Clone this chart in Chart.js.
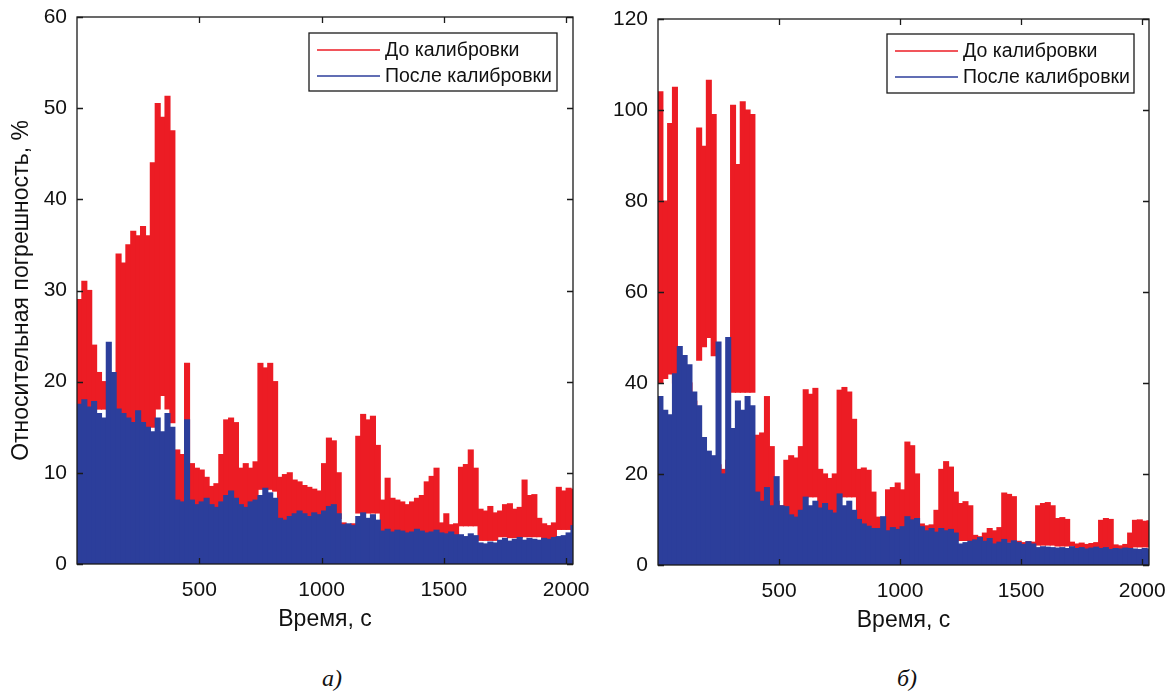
<!DOCTYPE html>
<html>
<head>
<meta charset="utf-8">
<script src="https://cdn.jsdelivr.net/npm/chart.js@4.4.1/dist/chart.umd.min.js"></script>
<style>
  body { margin: 0; background: #fff; width: 1173px; height: 700px; position: relative; overflow: hidden; }
  #wrapA { position: absolute; left: 0; top: 0; width: 600px; height: 650px; }
  #wrapB { position: absolute; left: 600px; top: 0; width: 573px; height: 650px; }
  .cap { position: absolute; top: 665px; font: italic 24px 'Liberation Serif', 'Times New Roman', serif; color: #111; }
</style>
</head>
<body>
<div id="wrapA"><canvas id="chartA" width="600" height="650"></canvas></div>
<div id="wrapB"><canvas id="chartB" width="573" height="650"></canvas></div>
<div class="cap" style="left:322px">а)</div>
<div class="cap" style="left:897px">б)</div>
<script>
// time bins, s (centre of each 20 s interval)
const timeBins = [
  10, 30, 50, 70, 90, 110, 130, 150, 170, 190,
  210, 230, 250, 270, 290, 310, 330, 350, 370, 390,
  410, 430, 450, 470, 490, 510, 530, 550, 570, 590,
  610, 630, 650, 670, 690, 710, 730, 750, 770, 790,
  810, 830, 850, 870, 890, 910, 930, 950, 970, 990,
  1010, 1030, 1050, 1070, 1090, 1110, 1130, 1150, 1170, 1190,
  1210, 1230, 1250, 1270, 1290, 1310, 1330, 1350, 1370, 1390,
  1410, 1430, 1450, 1470, 1490, 1510, 1530, 1550, 1570, 1590,
  1610, 1630, 1650, 1670, 1690, 1710, 1730, 1750, 1770, 1790,
  1810, 1830, 1850, 1870, 1890, 1910, 1930, 1950, 1970, 1990,
  2010, 2030
];
const xTicks = [500, 1000, 1500, 2000];

// panel a) - before calibration: upper / lower envelope, %
const redHiA = [
  29, 31, 30, 24, 21, 20, 18.5, 19, 34, 33,
  35, 36.5, 36, 37, 36, 44, 50.5, 49, 51.3, 47.5,
  12.5, 12, 22, 11, 10.5, 10.3, 9.5, 8.5, 8.8, 12,
  15.8, 16, 15.5, 10.5, 11, 10.5, 11.2, 22, 21.5, 22,
  20, 9.5, 9.8, 10, 9.2, 9, 8.6, 8.4, 8.2, 8,
  11, 13.8, 13.5, 10, 4.5, 4.3, 4.4, 14, 16.4, 15.8,
  16.2, 13, 7, 9.4, 7.2, 7, 6.8, 6.5, 6.8, 7.2,
  7.5, 9, 9.6, 10.5, 4.5, 5.5, 4.3, 4.4, 10.6, 10.9,
  12.5, 10.5, 6, 5.8, 6.3, 5.6, 5.8, 6.5, 6.6, 6,
  6.2, 9.2, 7.5, 7.6, 5, 4.4, 4.2, 4.5, 8.4, 8,
  8.3, 8.2
];
const redLoA = [
  17, 17, 17, 17, 17, 17, 17, 17, 15, 15,
  15, 15, 15, 15, 15, 15, 17, 18.5, 17, 15.5,
  6, 6, 6, 6, 6, 6, 6, 6, 6, 6,
  6, 6, 6, 6, 6, 6, 6, 8.2, 8.2, 8.2,
  8, 4.5, 4.5, 4.5, 4.5, 4.5, 4.5, 4.5, 4.5, 4.5,
  4.5, 5, 5, 5, 3.5, 3.5, 3.5, 5.6, 5.6, 5.6,
  5.6, 5.6, 3, 3, 3, 3, 3, 3, 3, 3,
  3, 3, 3, 3, 2.6, 2.6, 2.6, 2.6, 4.2, 4.2,
  4.2, 4.2, 2.6, 2.6, 2.6, 2.6, 3, 3, 2.9, 2.9,
  2.9, 3, 3, 3, 3, 1.9, 1.9, 1.9, 3.8, 3.8,
  3.8, 3.8
];
// panel a) - after calibration
const blueHiA = [
  17.5, 18, 17.2, 17.8, 16.5, 16, 24.3, 21, 17, 16.5,
  16, 15.5, 16.8, 15.5, 15, 14.5, 16, 14.5, 16.5, 15,
  7, 6.8, 15.8, 7, 6.5, 6.8, 7.2, 6.5, 6.2, 6.8,
  7.5, 8, 7.2, 6.5, 6.2, 6.8, 7, 7.5, 8.3, 7.8,
  7.2, 5, 4.8, 5.2, 5.5, 5.8, 5.5, 5.2, 5.6, 5.4,
  5.8, 6.3, 6.5, 5.5, 4.3, 4.4, 4.2, 5.2, 5.6, 5,
  5.4, 4.8, 3.6, 3.8, 3.5, 3.7, 3.6, 3.4, 3.5, 3.8,
  3.6, 3.4, 3.5, 3.7, 3.4, 3.3, 3.5, 3.2, 3.2, 3,
  3.3, 3.1, 2.3, 2.2, 2.4, 2.3, 2.6, 2.8, 2.5, 2.7,
  2.9, 2.6, 2.8, 2.7, 2.6, 2.8, 2.7, 2.9, 3, 3.1,
  3.4, 4.2
];

// panel б) - before calibration
const redHiB = [
  104, 80, 97, 105, 45, 42, 40, 36, 96, 92,
  106.5, 99, 22, 21, 23, 101, 88, 101.8, 100, 99,
  28.5, 29, 37, 26, 14, 13, 23, 24, 23.5, 26,
  38.5, 37.5, 38.8, 21, 20, 19, 20, 38.4, 39, 38,
  32, 21, 21.3, 20.8, 16, 10.5, 10, 16.5, 17, 18,
  16.5, 27, 26.2, 20, 9, 8.6, 8.8, 12, 21, 22.7,
  21.5, 16, 13.5, 13.9, 13, 6.5, 6.2, 7, 8, 7.5,
  8.2, 15.8, 15.5, 15, 5.2, 4.9, 5.1, 5, 13, 13.5,
  13.7, 13, 10.2, 10.4, 10, 5, 4.6, 4.8, 4.5, 4.7,
  4.9, 9.8, 10.2, 10, 4.4, 4.2, 4.5, 7, 9.8, 9.9,
  9.6, 9.7
];
const redLoB = [
  40, 41, 42, 40, 35, 35, 35, 35, 45, 48,
  50, 46, 18, 18, 18, 38, 38, 38, 38, 38,
  12, 12, 12, 12, 10, 10, 10, 10, 10, 10,
  15, 15, 15, 9, 9, 9, 9, 15, 15, 15,
  15, 8, 8, 8, 8, 7, 7, 7, 7, 7,
  7, 8, 8, 8, 7, 7, 7, 7, 7, 7,
  7, 7, 5.4, 5.4, 5.4, 4.5, 4.5, 4.5, 4.5, 4.5,
  4.5, 5, 5, 5, 4, 4, 4, 4, 4.4, 4.4,
  4.4, 4.4, 4.2, 4.2, 4.2, 4.2, 2.9, 2.9, 2.9, 2.9,
  2.9, 3.5, 3.5, 3.5, 3.6, 3.6, 3.6, 3.6, 4, 4,
  4, 4
];
// panel б) - after calibration
const blueHiB = [
  37, 34, 33, 42, 48, 46, 44, 38, 35, 28,
  25, 24, 49, 20, 50, 30, 36, 34, 37, 35,
  16, 14, 17, 13, 19.4, 13, 12.8, 11, 10.5, 12,
  14.9, 13, 14, 12.5, 13.5, 12, 11.4, 15.6, 13, 14,
  12, 10, 9, 8.5, 8, 8, 10.6, 7.5, 8.2, 7.8,
  8.4, 10.6, 9.9, 10.2, 8.4, 7.5, 8, 7.2, 8, 7.5,
  7.8, 7, 4.6, 4.9, 5.2, 5.5, 6, 5.2, 5.8, 4.6,
  5, 5.6, 4.8, 5.3, 4.9, 4.5, 5.1, 4.6, 3.8, 4,
  3.9, 3.8, 3.7, 3.8, 3.6, 4, 3.6, 3.8, 3.5, 3.7,
  3.9, 3.6, 3.8, 3.4, 3.6, 3.5, 3.7, 3.6, 3.5, 3.4,
  3.6, 3.5
];

const RED = 'rgb(236, 28, 36)';
const BLUE = 'rgb(44, 62, 155)';
const FONT = "'Liberation Sans', Arial, sans-serif";

// box, inward ticks, legend and axis titles (MATLAB style)
const framePlugin = {
  id: 'frame',
  afterDraw(chart, args, opts) {
    const { ctx, chartArea: a, scales } = chart;
    ctx.save();
    ctx.strokeStyle = '#1a1a1a';
    ctx.lineWidth = 1.3;
    ctx.strokeRect(a.left, a.top, a.right - a.left, a.bottom - a.top);

    ctx.beginPath();
    xTicks.forEach(v => {
      const px = Math.round(scales.x.getPixelForValue(v)) + 0.5;
      ctx.moveTo(px, a.bottom); ctx.lineTo(px, a.bottom - 6);
      ctx.moveTo(px, a.top); ctx.lineTo(px, a.top + 6);
    });
    scales.y.ticks.forEach(t => {
      const py = Math.round(scales.y.getPixelForValue(t.value)) + 0.5;
      ctx.moveTo(a.left, py); ctx.lineTo(a.left + 6, py);
      ctx.moveTo(a.right, py); ctx.lineTo(a.right - 6, py);
    });
    ctx.stroke();

    // legend
    const bx = a.right - opts.legendRight - opts.legendW;
    const by = a.top + opts.legendTop;
    ctx.fillStyle = '#fff';
    ctx.fillRect(bx, by, opts.legendW, opts.legendH);
    ctx.lineWidth = 1.3;
    ctx.strokeRect(bx, by, opts.legendW, opts.legendH);
    ctx.font = '19.5px ' + FONT;
    ctx.textAlign = 'left';
    ctx.textBaseline = 'middle';
    const legendDs = [chart.data.datasets[0], chart.data.datasets[1]];
    legendDs.forEach((ds, i) => {
      const ly = by + 17 + i * 26;
      ctx.strokeStyle = ds.backgroundColor;
      ctx.lineWidth = 1.5;
      ctx.beginPath();
      ctx.moveTo(bx + 8, ly); ctx.lineTo(bx + 71, ly);
      ctx.stroke();
      ctx.fillStyle = '#111';
      ctx.fillText(ds.label, bx + 76, ly + 1);
    });

    // axis titles
    ctx.fillStyle = '#111';
    ctx.textAlign = 'center';
    ctx.font = '23px ' + FONT;
    ctx.fillText('Время, с', (a.left + a.right) / 2, a.bottom + 56);
    if (opts.yTitle) {
      ctx.translate(opts.yTitleX, (a.top + a.bottom) / 2);
      ctx.rotate(-Math.PI / 2);
      ctx.fillText(opts.yTitle, 0, 0);
    }
    ctx.restore();
  }
};

function makeChart(id, redHi, redLo, blueHi, yMax, yStep, geom) {
  const redData = timeBins.map((t, i) => ({ x: t, y: [redLo[i], redHi[i]] }));
  const blueData = timeBins.map((t, i) => ({ x: t, y: [0, blueHi[i]] }));
  const barStyle = { borderWidth: 0, grouped: false, barPercentage: 1, categoryPercentage: 1, inflateAmount: 0.6 };
  return new Chart(document.getElementById(id), {
    type: 'bar',
    data: {
      datasets: [
        Object.assign({ label: 'До калибровки', data: redData, backgroundColor: RED, order: 2 }, barStyle),
        Object.assign({ label: 'После калибровки', data: blueData, backgroundColor: BLUE, order: 1 }, barStyle)
      ]
    },
    options: {
      responsive: false,
      animation: false,
      events: [],
      layout: { padding: { left: 0, right: geom.padRight, top: geom.padTop, bottom: 0 } },
      scales: {
        x: {
          type: 'linear',
          min: 0,
          max: 2028,
          offset: false,
          grid: { display: false, drawTicks: false },
          border: { display: false },
          afterBuildTicks: s => { s.ticks = xTicks.map(v => ({ value: v })); },
          afterFit: s => { s.height = geom.xAxisH; s.paddingLeft = 0; s.paddingRight = 0; },
          ticks: {
            color: '#111', font: { family: FONT, size: 21 }, padding: 14, maxRotation: 0, autoSkip: false,
            callback: v => String(v)
          }
        },
        y: {
          min: 0,
          max: yMax,
          grid: { display: false, drawTicks: false },
          border: { display: false },
          afterFit: s => { s.width = geom.yAxisW; s.paddingTop = 0; s.paddingBottom = 0; },
          ticks: { stepSize: yStep, color: '#111', font: { family: FONT, size: 21 }, padding: 10 }
        }
      },
      plugins: {
        legend: { display: false },
        tooltip: { enabled: false },
        frame: geom.frame
      }
    },
    plugins: [framePlugin]
  });
}

makeChart('chartA', redHiA, redLoA, blueHiA, 60, 10, {
  padRight: 27, padTop: 17, xAxisH: 86, yAxisW: 77,
  frame: { legendRight: 16, legendTop: 16, legendW: 248, legendH: 58, yTitle: 'Относительная погрешность, %', yTitleX: 22 }
});
makeChart('chartB', redHiB, redLoB, blueHiB, 120, 20, {
  padRight: 24, padTop: 19, xAxisH: 85, yAxisW: 58,
  frame: { legendRight: 15, legendTop: 15, legendW: 247, legendH: 59, yTitle: null }
});
</script>
</body>
</html>
